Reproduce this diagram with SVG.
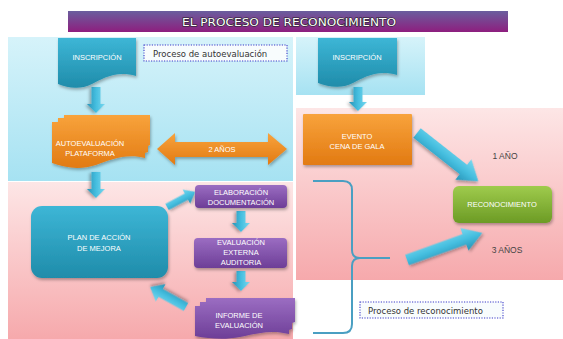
<svg xmlns="http://www.w3.org/2000/svg" width="563" height="339" viewBox="0 0 563 339">
<defs>
  <linearGradient id="gBlue" x1="0" y1="0" x2="0" y2="1"><stop offset="0" stop-color="#d6f3fa"/><stop offset="1" stop-color="#a6e2f2"/></linearGradient>
  <linearGradient id="gPink" x1="0" y1="0" x2="0" y2="1"><stop offset="0" stop-color="#fde6e6"/><stop offset="1" stop-color="#f6a9ac"/></linearGradient>
  <linearGradient id="gTitle" x1="0" y1="0" x2="0" y2="1"><stop offset="0" stop-color="#6a5e9e"/><stop offset="1" stop-color="#8e1e7e"/></linearGradient>
  <linearGradient id="gTeal" x1="0" y1="0" x2="0" y2="1"><stop offset="0" stop-color="#3db6d6"/><stop offset="1" stop-color="#1f8caa"/></linearGradient>
  <linearGradient id="gOrange" x1="0" y1="0" x2="0" y2="1"><stop offset="0" stop-color="#f8a33c"/><stop offset="1" stop-color="#e27a12"/></linearGradient>
  <linearGradient id="gPurple" x1="0" y1="0" x2="0" y2="1"><stop offset="0" stop-color="#9b6dc2"/><stop offset="1" stop-color="#6d3e97"/></linearGradient>
  <linearGradient id="gGreen" x1="0" y1="0" x2="0" y2="1"><stop offset="0" stop-color="#9fcb4c"/><stop offset="1" stop-color="#6c9b25"/></linearGradient>
  <linearGradient id="gArrow" x1="0" y1="0" x2="0" y2="1"><stop offset="0" stop-color="#7ad8ef"/><stop offset="0.5" stop-color="#45bedf"/><stop offset="1" stop-color="#2893b6"/></linearGradient>
  <filter id="sh" x="-20%" y="-20%" width="140%" height="150%"><feDropShadow dx="1" dy="2" stdDeviation="1.4" flood-color="#000" flood-opacity="0.3"/></filter>
</defs>
<style>
  .node text { font-family: "Liberation Sans", Arial, sans-serif; font-size: 7.5px; fill: #ffffff; text-anchor: middle; }
  .lbl { font-family: "Liberation Sans", Arial, sans-serif; font-size: 8.5px; fill: #444; text-anchor: middle; }
  .cap { font-family: "DejaVu Sans", sans-serif; font-size: 8.5px; fill: #333; }
  .dotbox { fill: #f8fcfd; stroke: #3a3ac8; stroke-width: 1.1; stroke-dasharray: 1.2 1.4; }
  .arr { fill: url(#gArrow); filter: url(#sh); }
</style>

<!-- panels -->
<rect x="8" y="37" width="285" height="144" fill="url(#gBlue)"/>
<rect x="296" y="37" width="129" height="58" fill="url(#gBlue)"/>
<rect x="8" y="182" width="285" height="157" fill="url(#gPink)"/>
<rect x="296" y="108" width="267" height="172" fill="url(#gPink)"/>

<!-- title -->
<g id="title">
  <rect x="68" y="11" width="440" height="21" fill="url(#gTitle)"/>
  <text x="289" y="25.5" font-family="DejaVu Sans, sans-serif" font-size="10" fill="#fff" stroke="#222" stroke-width="1.1" paint-order="stroke" text-anchor="middle" textLength="214" lengthAdjust="spacingAndGlyphs">EL PROCESO DE RECONOCIMIENTO</text>
</g>

<!-- connectors -->
<g id="connectors">
  <path class="arr" transform="translate(96,87) rotate(90)" d="M0,-4.5 H17 V-9 L26,0 L17,9 V4.5 H0 Z"/>
  <path class="arr" transform="translate(96,172) rotate(90)" d="M0,-4.5 H17 V-9 L26,0 L17,9 V4.5 H0 Z"/>
  <path class="arr" transform="translate(241,211) rotate(90)" d="M0,-4.5 H12 V-9 L21,0 L12,9 V4.5 H0 Z"/>
  <path class="arr" transform="translate(241,271) rotate(90)" d="M0,-4.5 H11 V-9 L20,0 L11,9 V4.5 H0 Z"/>
  <path class="arr" transform="translate(358,87) rotate(90)" d="M0,-4.5 H15 V-9 L24,0 L15,9 V4.5 H0 Z"/>
  <path class="arr" transform="translate(167,207) rotate(-28.2)" d="M0,-3.5 H22 V-8 L32,0 L22,8 V3.5 H0 Z"/>
  <path class="arr" transform="translate(186,307) rotate(-150.9)" d="M0,-4.5 H29 V-10 L41,0 L29,10 V4.5 H0 Z"/>
  <path class="arr" transform="translate(417,133) rotate(38.2)" d="M0,-6 H59 V-13 L78,0 L59,13 V6 H0 Z"/>
  <path class="arr" transform="translate(407,260) rotate(-19.8)" d="M0,-5.5 H61 V-12 L80,0 L61,12 V5.5 H0 Z"/>
  <path d="M313,181 H343 Q352,181 352,190 V250 Q352,258 360,258 H390 M360,258 Q352,258 352,266 V324 Q352,333 343,333 H313" fill="none" stroke="#4a9fc2" stroke-width="2"/>
</g>

<!-- double arrow 2 AÑOS -->
<g id="dos-anos">
  <path d="M157,149 L175,133 V142 H268 V133 L287,149 L268,165 V157 H175 V165 Z" fill="url(#gOrange)" filter="url(#sh)"/>
  <text class="lbl" x="222" y="152" style="fill:#fff;font-size:7.5px">2 AÑOS</text>
</g>

<!-- nodes -->
<g id="inscripcion-1" class="node">
  <path d="M58,38 H136 V76 C116,70 102,79 92,84 C80,90 68,88 58,84 Z" fill="url(#gTeal)" filter="url(#sh)"/>
  <text x="97" y="60">INSCRIPCIÓN</text>
</g>
<g id="cap-auto">
  <rect class="dotbox" x="144" y="45" width="143" height="16"/>
  <text class="cap" x="153" y="56.5">Proceso de autoevaluación</text>
</g>
<g id="autoevaluacion" class="node">
  <path d="M52,122 H58 V118 H64 V115 H150 V145 L148,146 V152 L145,153 V158 C126,153 110,160 96,165 C80,170 66,168 52,163 Z" fill="url(#gOrange)" filter="url(#sh)"/>
  <text x="90" y="146">AUTOEVALUACIÓN</text>
  <text x="90" y="156">PLATAFORMA</text>
</g>
<g id="plan" class="node">
  <rect x="31" y="206" width="137" height="72" rx="11" fill="url(#gTeal)" filter="url(#sh)"/>
  <text x="99" y="240">PLAN DE ACCIÓN</text>
  <text x="99" y="251">DE MEJORA</text>
</g>
<g id="elaboracion" class="node">
  <rect x="195" y="185" width="92" height="23" rx="4" fill="url(#gPurple)" filter="url(#sh)"/>
  <text x="241" y="194.5">ELABORACIÓN</text>
  <text x="241" y="204.5">DOCUMENTACIÓN</text>
</g>
<g id="evaluacion" class="node">
  <rect x="194" y="238" width="93" height="30" rx="4" fill="url(#gPurple)" filter="url(#sh)"/>
  <text x="241" y="244.5">EVALUACIÓN</text>
  <text x="241" y="254.5">EXTERNA</text>
  <text x="241" y="264.5">AUDITORIA</text>
</g>
<g id="informe" class="node">
  <path d="M195,306 H200 V302 H206 V298 H295 V322 L292,323 V329 L289,330 V334 C270,329 255,334 240,337 C225,340 210,339 195,336 Z" fill="url(#gPurple)" filter="url(#sh)"/>
  <text x="239" y="318">INFORME DE</text>
  <text x="239" y="328">EVALUACIÓN</text>
</g>
<g id="inscripcion-2" class="node">
  <path d="M318,38 H397 V75 C377,69 363,78 353,83 C341,89 329,87 318,83 Z" fill="url(#gTeal)" filter="url(#sh)"/>
  <text x="357" y="60">INSCRIPCIÓN</text>
</g>
<g id="evento" class="node">
  <rect x="303" y="114" width="109" height="51" rx="1" fill="url(#gOrange)" filter="url(#sh)"/>
  <text x="357" y="139">EVENTO</text>
  <text x="357" y="149">CENA DE GALA</text>
</g>
<g id="reconocimiento" class="node">
  <rect x="453" y="186" width="99" height="37" rx="6" fill="url(#gGreen)" filter="url(#sh)"/>
  <text x="502" y="207">RECONOCIMIENTO</text>
</g>
<g id="labels">
  <text class="lbl" x="505" y="159">1 AÑO</text>
  <text class="lbl" x="507" y="253">3 AÑOS</text>
</g>
<g id="cap-reco">
  <rect class="dotbox" x="360" y="302" width="143" height="16"/>
  <text class="cap" x="368" y="313.5">Proceso de reconocimiento</text>
</g>
</svg>
